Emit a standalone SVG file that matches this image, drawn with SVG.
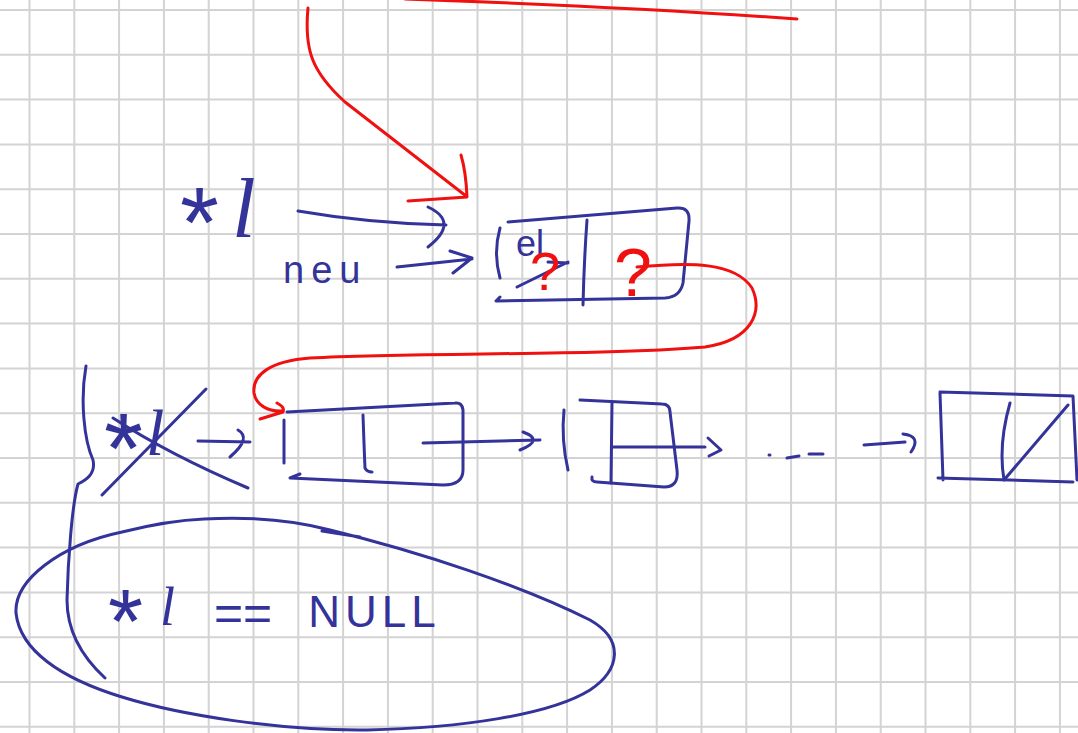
<svg xmlns="http://www.w3.org/2000/svg" width="1078" height="733" viewBox="0 0 1078 733">
<style>
.grid{fill:none;stroke:#d3d3d3;stroke-width:2}
.ink{fill:none;stroke:#333399;stroke-width:3;stroke-linecap:round;stroke-linejoin:round}
.red{fill:none;stroke:#f01010;stroke-width:3;stroke-linecap:round;stroke-linejoin:round}
.t{font-family:"Liberation Sans",Arial,sans-serif;fill:#333399}
.tr{font-family:"Liberation Sans",Arial,sans-serif;fill:#f01010}
.ell{font-family:"Liberation Serif","Times New Roman",serif;font-style:italic}
</style>
<rect width="1078" height="733" fill="#ffffff"/>
<path class="grid" d="M29.5,0V733M74.3,0V733M119.1,0V733M163.9,0V733M208.7,0V733M253.5,0V733M298.3,0V733M343.1,0V733M387.9,0V733M432.7,0V733M477.5,0V733M522.3,0V733M567.1,0V733M611.9,0V733M656.7,0V733M701.5,0V733M746.3,0V733M791.1,0V733M835.9,0V733M880.7,0V733M925.5,0V733M970.3,0V733M1015.1,0V733M1059.9,0V733 M0,10H1078M0,54.8H1078M0,99.6H1078M0,144.4H1078M0,189.2H1078M0,234H1078M0,278.8H1078M0,323.6H1078M0,368.4H1078M0,413.2H1078M0,458H1078M0,502.8H1078M0,547.6H1078M0,592.4H1078M0,637.2H1078M0,682H1078M0,726.8H1078"/>

<g id="label-star-l-top">
<text class="t"><tspan x="180" y="257" font-size="100">*</tspan><tspan class="ell" x="232" y="237" font-size="85">l</tspan></text>
</g>
<g id="label-neu">
<text class="t" x="283" y="283" font-size="38" letter-spacing="7">neu</text>
</g>

<g id="node-new">
<path class="ink" d="M500,228 Q493,253 500,278"/>
<path class="ink" d="M500,297 L496,301 L665,298 Q680,297 683,283 L689,221 Q690,207 677,208 L508,222"/>
<path class="ink" d="M587,220 Q584,262 583,305"/>
<text class="t" x="516" y="256" font-size="36">el</text>
<path class="ink" d="M517,287 L568,262 M548,262 L568,263"/>
<text class="tr" x="530" y="290" font-size="54">?</text>
<text class="tr" x="614" y="296" font-size="68">?</text>
</g>

<g id="label-star-l-mid">
<text class="t"><tspan x="104" y="483" font-size="100">*</tspan><tspan class="ell" x="146" y="455" font-size="66">l</tspan></text>
<path class="ink" d="M102,495 L206,389 M113,418 Q170,455 248,488"/>
</g>

<g id="brace">
<path class="ink" d="M86,366 C80,400 84,440 93,460 C96,474 86,480 78,484 C72,505 68,560 67,600 C67,630 80,655 105,678"/>
</g>

<g id="node-1">
<path class="ink" d="M284,420 L284,463"/>
<path class="ink" d="M300,474 L290,478 L443,485 Q463,485 463,470 L463,410 Q462,402 455,403 L287,412"/>
<path class="ink" d="M363,415 Q364,445 365,468 Q367,472 372,472"/>
</g>

<g id="node-2">
<path class="ink" d="M564,410 Q561,440 568,470"/>
<path class="ink" d="M592,477 Q591,482 597,482 L664,487 Q679,487 677,470 L670,412 Q670,404 662,404 L580,400"/>
<path class="ink" d="M612,402 L611,483"/>
</g>

<g id="ellipsis">
<path class="ink" d="M769,455 L770,455 M787,458 L799,456 M809,454 L823,454"/>
</g>

<g id="node-last">
<path class="ink" d="M940,393 L943,480 M940,392 L1073,396 L1077,480 M938,478 L1073,482"/>
<path class="ink" d="M1010,403 Q998,445 1004,480 L1068,405"/>
</g>

<g id="null-condition">
<path class="ink" d="M204,519 C260,516 300,522 330,530 C420,552 520,585 590,620 C625,640 620,670 590,690 C550,715 460,728 367,730 C280,731 180,715 122,697 C60,678 20,650 16,613 C14,580 60,545 122,532 C150,525 180,520 204,519 Z M322,531 L360,537"/>
<text class="t"><tspan x="108" y="653" font-size="90">*</tspan><tspan class="ell" x="160" y="625" font-size="54">l</tspan><tspan x="200" y="630" font-size="50"> ==</tspan><tspan x="291" y="627" font-size="44" letter-spacing="5"> NULL</tspan></text>
</g>

<g id="connectors">
<path class="red" d="M405,-1 C550,4 700,12 797,19"/>
<path class="red" d="M308,8 C304,50 312,72 345,102 L466,196 M461,155 Q466,172 467,197 L408,201"/>
<path class="ink" d="M298,211 C350,220 400,224 446,225 M428,207 Q460,222 428,247"/>
<path class="ink" d="M397,267 L472,259 M450,251 L472,258 L453,273"/>
<path class="red" d="M637,267 C690,262 735,262 752,288 C763,312 752,340 705,347 C600,356 420,352 310,358 C270,361 252,375 254,393 C256,405 268,412 283,411 M277,403 Q285,407 283,412 L260,419"/>
<path class="ink" d="M198,441 L250,442 M238,430 Q252,438 230,457"/>
<path class="ink" d="M423,443 L540,440 M523,432 Q545,440 520,450"/>
<path class="ink" d="M612,447 L705,447 M708,438 L721,450 L709,456"/>
<path class="ink" d="M864,445 L905,442 M903,434 Q922,436 911,452"/>
</g>
</svg>
